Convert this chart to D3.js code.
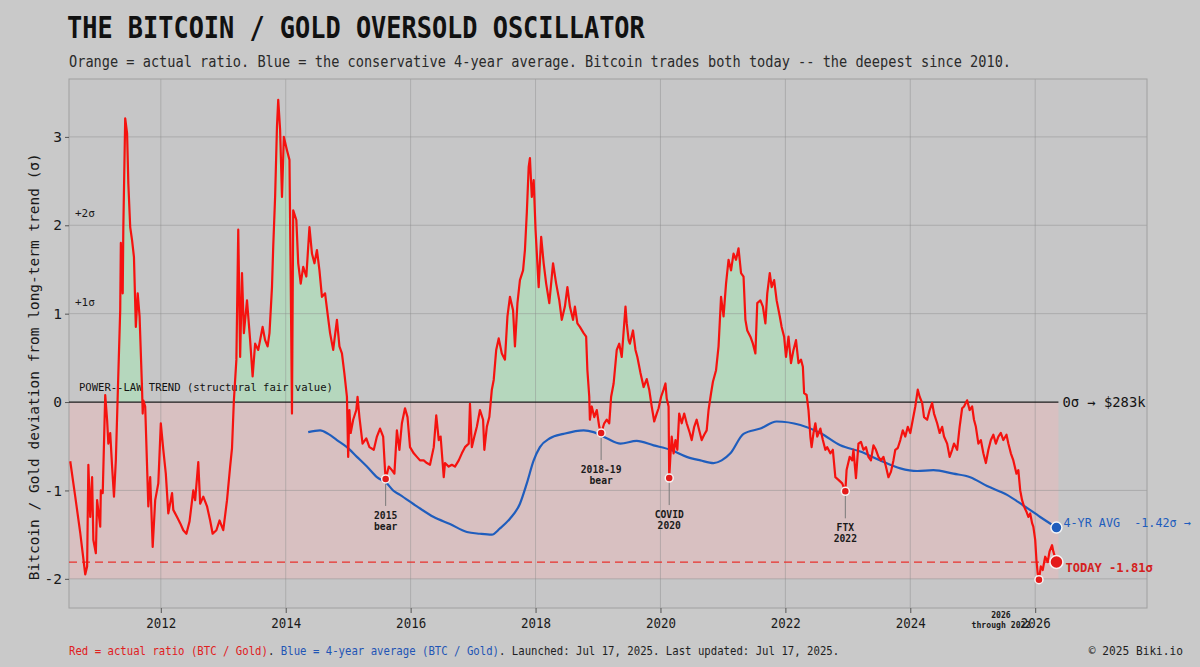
<!DOCTYPE html>
<html>
<head>
<meta charset="utf-8">
<script src="https://cdn.jsdelivr.net/npm/d3@7"></script>
<style>
  html, body { margin: 0; padding: 0; background: #c9c9c9; }
  svg { display: block; }
  text { font-family: 'DejaVu Sans Mono', 'Liberation Mono', monospace; white-space: pre; }
</style>
</head>
<body>
<div id="chart"></div>
<script>
// BTC / Gold deviation from power-law trend, in sigma (decimal year, value)
const ratioSeries = [
  [2010.55, -0.67], [2010.63, -1.07], [2010.71, -1.48], [2010.79, -1.95], [2010.82, -1.86],
  [2010.84, -0.71], [2010.87, -1.30], [2010.90, -0.85], [2010.92, -1.56], [2010.96, -1.71],
  [2010.98, -1.11], [2011.03, -1.41], [2011.04, -1.00], [2011.07, -1.03], [2011.11, 0.08],
  [2011.14, -0.20], [2011.16, -0.47], [2011.19, -0.35], [2011.22, -0.73], [2011.25, -1.07],
  [2011.28, -0.66], [2011.32, 0.32], [2011.35, 1.04], [2011.36, 1.80], [2011.39, 1.23],
  [2011.40, 1.98], [2011.43, 3.21], [2011.46, 3.04], [2011.48, 2.47], [2011.51, 1.98],
  [2011.54, 1.83], [2011.57, 1.64], [2011.60, 0.85], [2011.63, 1.23], [2011.66, 0.97],
  [2011.70, 0.14], [2011.71, -0.13], [2011.72, 0.02], [2011.75, -0.05], [2011.80, -1.18],
  [2011.83, -0.85], [2011.87, -1.64], [2011.91, -1.11], [2011.96, -0.92], [2012.00, -0.24],
  [2012.04, -0.54], [2012.08, -0.81], [2012.12, -1.26], [2012.18, -1.03], [2012.20, -1.22],
  [2012.26, -1.30], [2012.31, -1.37], [2012.36, -1.45], [2012.41, -1.49], [2012.46, -1.35],
  [2012.52, -1.00], [2012.55, -1.11], [2012.60, -0.68], [2012.63, -1.15], [2012.68, -1.07],
  [2012.74, -1.18], [2012.79, -1.34], [2012.83, -1.49], [2012.89, -1.45], [2012.94, -1.34],
  [2013.00, -1.45], [2013.06, -1.11], [2013.11, -0.73], [2013.14, -0.52], [2013.17, 0.02],
  [2013.21, 0.48], [2013.24, 1.95], [2013.27, 0.51], [2013.30, 1.46], [2013.33, 0.78],
  [2013.38, 1.15], [2013.43, 0.70], [2013.47, 0.29], [2013.51, 0.66], [2013.56, 0.59],
  [2013.63, 0.85], [2013.67, 0.70], [2013.71, 0.63], [2013.74, 0.78], [2013.78, 1.30],
  [2013.80, 1.76], [2013.83, 2.32], [2013.86, 3.12], [2013.88, 3.42], [2013.91, 3.08],
  [2013.94, 2.32], [2013.97, 3.00], [2014.02, 2.85], [2014.06, 2.74], [2014.08, 1.38],
  [2014.10, -0.13], [2014.12, 2.17], [2014.17, 2.06], [2014.20, 1.57], [2014.24, 1.34],
  [2014.28, 1.53], [2014.33, 1.42], [2014.38, 1.98], [2014.42, 1.68], [2014.46, 1.57],
  [2014.50, 1.72], [2014.54, 1.49], [2014.58, 1.19], [2014.63, 1.23], [2014.67, 1.00],
  [2014.71, 0.78], [2014.76, 0.59], [2014.82, 0.93], [2014.86, 0.63], [2014.90, 0.55],
  [2014.94, 0.32], [2014.98, 0.06], [2015.00, -0.62], [2015.02, -0.09], [2015.04, -0.35],
  [2015.08, -0.20], [2015.13, -0.09], [2015.15, 0.06], [2015.18, -0.17], [2015.23, -0.47],
  [2015.29, -0.41], [2015.34, -0.51], [2015.41, -0.54], [2015.46, -0.39], [2015.51, -0.30],
  [2015.56, -0.39], [2015.59, -0.77], [2015.60, -0.87], [2015.65, -0.73], [2015.70, -0.77],
  [2015.74, -0.81], [2015.78, -0.32], [2015.82, -0.54], [2015.86, -0.24], [2015.91, -0.07],
  [2015.95, -0.17], [2015.99, -0.51], [2016.05, -0.58], [2016.10, -0.62], [2016.15, -0.66],
  [2016.21, -0.66], [2016.26, -0.69], [2016.31, -0.71], [2016.37, -0.51], [2016.41, -0.15],
  [2016.45, -0.43], [2016.48, -0.39], [2016.53, -0.85], [2016.55, -0.69], [2016.61, -0.73],
  [2016.66, -0.71], [2016.71, -0.73], [2016.77, -0.66], [2016.82, -0.58], [2016.87, -0.51],
  [2016.93, -0.47], [2016.95, -0.02], [2016.98, -0.51], [2017.02, -0.39], [2017.06, -0.28],
  [2017.11, -0.09], [2017.16, -0.20], [2017.18, -0.54], [2017.22, -0.28], [2017.26, -0.17],
  [2017.30, 0.14], [2017.33, 0.25], [2017.37, 0.59], [2017.41, 0.72], [2017.46, 0.55],
  [2017.51, 0.48], [2017.55, 0.97], [2017.59, 1.19], [2017.64, 1.04], [2017.67, 0.63],
  [2017.71, 1.12], [2017.75, 1.38], [2017.80, 1.49], [2017.83, 1.72], [2017.86, 2.14],
  [2017.89, 2.66], [2017.91, 2.76], [2017.94, 2.32], [2017.97, 2.51], [2018.00, 1.95],
  [2018.05, 1.30], [2018.09, 1.87], [2018.13, 1.57], [2018.17, 1.34], [2018.22, 1.12],
  [2018.28, 1.57], [2018.33, 1.34], [2018.38, 1.15], [2018.42, 0.93], [2018.47, 1.08],
  [2018.51, 1.30], [2018.55, 1.08], [2018.60, 0.93], [2018.63, 1.08], [2018.67, 0.89],
  [2018.71, 0.85], [2018.77, 0.78], [2018.81, 0.74], [2018.83, 0.36], [2018.86, 0.06],
  [2018.87, -0.20], [2018.90, -0.05], [2018.94, -0.17], [2018.98, -0.09], [2019.02, -0.28],
  [2019.05, -0.35], [2019.10, -0.24], [2019.14, -0.20], [2019.18, -0.24], [2019.21, 0.06],
  [2019.25, 0.21], [2019.30, 0.59], [2019.34, 0.66], [2019.38, 0.51], [2019.44, 1.08],
  [2019.46, 0.89], [2019.49, 0.70], [2019.51, 0.66], [2019.56, 0.81], [2019.60, 0.59],
  [2019.63, 0.51], [2019.68, 0.33], [2019.73, 0.17], [2019.78, 0.26], [2019.82, 0.14],
  [2019.86, -0.05], [2019.90, -0.22], [2019.94, -0.13], [2019.97, -0.07], [2020.01, 0.06],
  [2020.05, 0.14], [2020.08, 0.21], [2020.10, 0.04], [2020.13, -0.05], [2020.14, -0.86],
  [2020.16, -0.60], [2020.18, -0.39], [2020.21, -0.58], [2020.24, -0.43], [2020.27, -0.54],
  [2020.30, -0.13], [2020.34, -0.24], [2020.38, -0.13], [2020.42, -0.24], [2020.47, -0.35],
  [2020.50, -0.43], [2020.54, -0.28], [2020.58, -0.20], [2020.62, -0.32], [2020.66, -0.43],
  [2020.70, -0.37], [2020.74, -0.32], [2020.77, -0.09], [2020.81, 0.10], [2020.84, 0.23],
  [2020.89, 0.36], [2020.93, 0.63], [2020.97, 1.19], [2021.01, 0.97], [2021.05, 1.34],
  [2021.09, 1.61], [2021.13, 1.49], [2021.17, 1.68], [2021.21, 1.61], [2021.25, 1.74],
  [2021.29, 1.46], [2021.33, 1.42], [2021.36, 0.93], [2021.39, 0.81], [2021.44, 0.74],
  [2021.48, 0.66], [2021.52, 0.55], [2021.55, 1.12], [2021.60, 1.15], [2021.64, 1.08],
  [2021.68, 0.89], [2021.71, 1.23], [2021.75, 1.46], [2021.78, 1.30], [2021.82, 1.38],
  [2021.86, 1.15], [2021.91, 0.97], [2021.94, 0.85], [2021.98, 0.74], [2022.01, 0.51],
  [2022.05, 0.74], [2022.09, 0.44], [2022.13, 0.59], [2022.17, 0.70], [2022.21, 0.44],
  [2022.25, 0.48], [2022.28, 0.40], [2022.30, 0.10], [2022.34, 0.08], [2022.37, -0.09],
  [2022.40, -0.39], [2022.42, -0.51], [2022.45, -0.35], [2022.48, -0.24], [2022.51, -0.39],
  [2022.56, -0.30], [2022.60, -0.43], [2022.64, -0.54], [2022.67, -0.51], [2022.72, -0.58],
  [2022.76, -0.54], [2022.80, -0.85], [2022.85, -0.88], [2022.91, -0.92], [2022.96, -1.01],
  [2022.98, -0.77], [2023.03, -0.62], [2023.07, -0.66], [2023.09, -0.54], [2023.13, -0.86],
  [2023.17, -0.47], [2023.21, -0.45], [2023.25, -0.54], [2023.29, -0.51], [2023.33, -0.62],
  [2023.37, -0.66], [2023.41, -0.49], [2023.45, -0.54], [2023.49, -0.62], [2023.53, -0.66],
  [2023.57, -0.62], [2023.61, -0.73], [2023.65, -0.85], [2023.69, -0.79], [2023.73, -0.66],
  [2023.76, -0.54], [2023.80, -0.52], [2023.84, -0.43], [2023.88, -0.32], [2023.92, -0.39],
  [2023.96, -0.28], [2024.00, -0.35], [2024.04, -0.20], [2024.08, -0.05], [2024.12, 0.14],
  [2024.15, 0.06], [2024.19, -0.01], [2024.22, -0.17], [2024.27, -0.20], [2024.31, -0.09],
  [2024.35, -0.01], [2024.38, -0.13], [2024.43, -0.24], [2024.47, -0.35], [2024.51, -0.28],
  [2024.54, -0.39], [2024.59, -0.47], [2024.63, -0.62], [2024.67, -0.54], [2024.70, -0.47],
  [2024.75, -0.54], [2024.79, -0.28], [2024.83, -0.07], [2024.86, -0.05], [2024.91, 0.02],
  [2024.95, -0.09], [2024.99, -0.05], [2025.02, -0.20], [2025.05, -0.28], [2025.09, -0.47],
  [2025.13, -0.43], [2025.17, -0.58], [2025.21, -0.69], [2025.25, -0.54], [2025.29, -0.43],
  [2025.33, -0.37], [2025.37, -0.47], [2025.41, -0.39], [2025.45, -0.35], [2025.49, -0.43],
  [2025.54, -0.37], [2025.57, -0.47], [2025.61, -0.58], [2025.65, -0.66], [2025.70, -0.81],
  [2025.73, -0.77], [2025.76, -1.00], [2025.79, -1.11], [2025.82, -1.18], [2025.86, -1.24],
  [2025.89, -1.30], [2025.92, -1.26], [2025.95, -1.37], [2025.97, -1.41], [2026.00, -1.56],
  [2026.02, -1.79], [2026.04, -1.94], [2026.06, -2.01], [2026.09, -1.86], [2026.12, -1.90],
  [2026.16, -1.75], [2026.20, -1.81], [2026.23, -1.69], [2026.27, -1.62], [2026.29, -1.69],
  [2026.34, -1.81]
];

// conservative 4-year average of the same ratio
const avgSeries = [
  [2014.36, -0.34], [2014.55, -0.32], [2014.68, -0.36], [2014.82, -0.43], [2014.98, -0.51],
  [2015.14, -0.62], [2015.30, -0.73], [2015.46, -0.85], [2015.62, -0.92], [2015.72, -1.00],
  [2015.83, -1.05], [2016.10, -1.18], [2016.37, -1.30], [2016.63, -1.38], [2016.90, -1.47],
  [2017.11, -1.49], [2017.30, -1.50], [2017.43, -1.43], [2017.59, -1.32], [2017.75, -1.15],
  [2017.86, -0.92], [2017.97, -0.66], [2018.07, -0.51], [2018.23, -0.41], [2018.45, -0.36],
  [2018.77, -0.32], [2018.93, -0.34], [2019.14, -0.41], [2019.36, -0.47], [2019.62, -0.44],
  [2019.89, -0.49], [2020.16, -0.54], [2020.42, -0.62], [2020.64, -0.66], [2020.85, -0.69],
  [2020.98, -0.66], [2021.12, -0.58], [2021.33, -0.36], [2021.60, -0.30], [2021.86, -0.22],
  [2022.24, -0.26], [2022.56, -0.35], [2022.88, -0.49], [2023.20, -0.56], [2023.52, -0.66],
  [2023.84, -0.75], [2024.11, -0.78], [2024.37, -0.77], [2024.69, -0.81], [2024.96, -0.85],
  [2025.23, -0.95], [2025.55, -1.05], [2025.81, -1.17], [2026.08, -1.30], [2026.34, -1.42]
];

const xTickYears = [2012, 2014, 2016, 2018, 2020, 2022, 2024, 2026];
const yTickValues = [-2, -1, 0, 1, 2, 3];
const sigmaBands = [{value: 2, label: '+2σ'}, {value: 1, label: '+1σ'}];

// marked lows along the red line
const events = [
  {year: 2015.60, value: -0.87, lines: ['2015', 'bear'], leader: true, shift: 0},
  {year: 2019.05, value: -0.35, lines: ['2018-19', 'bear'], leader: true, shift: 0},
  {year: 2020.14, value: -0.86, lines: ['COVID', '2020'], leader: true, shift: 0},
  {year: 2022.96, value: -1.01, lines: ['FTX', '2022'], leader: true, shift: 0},
  {year: 2026.06, value: -2.01, lines: ['2026', 'through 2022'], leader: false, shift: -38}
];

const todayYear = 2026.34;
const todayValue = -1.81;
const avgTodayValue = -1.42;
const fairValueLabel = '0σ → $283k';
const lowerBandFloor = -2;

const width = 1200, height = 667;
const margin = {top: 79, right: 53, bottom: 59, left: 69};
const plotW = width - margin.left - margin.right;
const plotH = height - margin.top - margin.bottom;

const x = d3.scaleLinear().domain([2010.53, 2027.79]).range([0, plotW]);
const y = d3.scaleLinear().domain([-2.33, 3.655]).range([plotH, 0]);

const svg = d3.select('#chart').append('svg')
  .attr('width', width)
  .attr('height', height);

svg.append('rect')
  .attr('width', width)
  .attr('height', height)
  .attr('fill', '#c9c9c9');

// helper: text squeezed horizontally like the condensed font in the original
function addText(parent, px, py, str, opts) {
  const o = Object.assign({size: 12, weight: 'normal', fill: '#222', anchor: 'start', sx: 1}, opts);
  return parent.append('text')
    .attr('transform', 'translate(' + px + ',' + py + ') scale(' + o.sx + ',1)')
    .attr('font-size', o.size)
    .attr('font-weight', o.weight)
    .attr('fill', o.fill)
    .attr('text-anchor', o.anchor)
    .text(str);
}

// title + subtitle
addText(svg, 67, 38, 'THE BITCOIN / GOLD OVERSOLD OSCILLATOR',
  {size: 31, weight: 'bold', fill: '#111', sx: 0.815});
addText(svg, 69, 67,
  'Orange = actual ratio. Blue = the conservative 4-year average. Bitcoin trades both today -- the deepest since 2010.',
  {size: 15, fill: '#2a2a2a', sx: 0.908});

const chart = svg.append('g')
  .attr('transform', 'translate(' + margin.left + ',' + margin.top + ')');

chart.append('rect')
  .attr('width', plotW)
  .attr('height', plotH)
  .attr('fill', '#c6c6c7');

const shadeEnd = x(todayYear) + 2;

// below-trend zone
chart.append('rect')
  .attr('x', 0)
  .attr('y', y(0))
  .attr('width', shadeEnd)
  .attr('height', y(lowerBandFloor) - y(0))
  .attr('fill', '#ffb3b3')
  .attr('opacity', 0.32);

// above-trend fill under the red line
const greenArea = d3.area()
  .x(d => x(d[0]))
  .y0(y(0))
  .y1(d => y(Math.max(d[1], 0)));

chart.append('path')
  .datum(ratioSeries)
  .attr('d', greenArea)
  .attr('fill', '#a8e6b4')
  .attr('opacity', 0.55);

// grid
chart.selectAll('line.vgrid')
  .data(xTickYears).enter()
  .append('line')
  .attr('class', 'vgrid')
  .attr('x1', d => x(d)).attr('x2', d => x(d))
  .attr('y1', 0).attr('y2', plotH)
  .attr('stroke', '#8c8c8c')
  .attr('stroke-opacity', 0.45)
  .attr('stroke-width', 1);

chart.selectAll('line.hgrid')
  .data(yTickValues.filter(v => v !== 0)).enter()
  .append('line')
  .attr('class', 'hgrid')
  .attr('x1', 0).attr('x2', plotW)
  .attr('y1', d => y(d)).attr('y2', d => y(d))
  .attr('stroke', '#8c8c8c')
  .attr('stroke-opacity', 0.45)
  .attr('stroke-width', 1);

chart.append('rect')
  .attr('width', plotW)
  .attr('height', plotH)
  .attr('fill', 'none')
  .attr('stroke', '#a0a0a0')
  .attr('stroke-width', 1);

// axes
const xAxis = chart.append('g')
  .attr('transform', 'translate(0,' + plotH + ')')
  .call(d3.axisBottom(x).tickValues(xTickYears).tickFormat(d3.format('d')).tickSize(5).tickPadding(5));

const yAxis = chart.append('g')
  .call(d3.axisLeft(y).tickValues(yTickValues).tickFormat(d => d < 0 ? '-' + Math.abs(d) : d).tickSize(4).tickPadding(3));

[xAxis, yAxis].forEach(ax => {
  ax.select('.domain').remove();
  ax.selectAll('.tick line').attr('stroke', '#555');
  ax.selectAll('.tick text')
    .attr('fill', '#1a1a1a')
    .attr('font-size', 14.5)
    .attr('font-family', "'DejaVu Sans Mono', monospace");
});
xAxis.selectAll('.tick text').attr('transform', 'scale(0.86,1)');

svg.append('text')
  .attr('transform', 'translate(39,' + (margin.top + y(0.4)) + ') rotate(-90)')
  .attr('text-anchor', 'middle')
  .attr('font-size', 14.5)
  .attr('fill', '#1a1a1a')
  .attr('textLength', 427)
  .attr('lengthAdjust', 'spacingAndGlyphs')
  .text('Bitcoin / Gold deviation from long-term trend (σ)');

// sigma band labels
sigmaBands.forEach(b => {
  addText(chart, 6, y(b.value) - 8, b.label, {size: 11, fill: '#1a1a1a'});
});

// trend line + today's level
chart.append('line')
  .attr('x1', 0).attr('x2', shadeEnd)
  .attr('y1', y(0)).attr('y2', y(0))
  .attr('stroke', '#1c1c1c')
  .attr('stroke-width', 1.3);

addText(chart, 10, y(0) - 11, 'POWER--LAW TREND (structural fair value)',
  {size: 11, fill: '#111', sx: 0.96});

chart.append('line')
  .attr('x1', 0).attr('x2', shadeEnd)
  .attr('y1', y(todayValue)).attr('y2', y(todayValue))
  .attr('stroke', '#e8302c')
  .attr('stroke-width', 1.3)
  .attr('stroke-dasharray', '8,5');

// 4-year average
const line = d3.line()
  .x(d => x(d[0]))
  .y(d => y(d[1]));

chart.append('path')
  .datum(avgSeries)
  .attr('d', line.curve(d3.curveMonotoneX))
  .attr('fill', 'none')
  .attr('stroke', '#1f5dbd')
  .attr('stroke-width', 2.2);

// actual ratio
chart.append('path')
  .datum(ratioSeries)
  .attr('d', d3.line().x(d => x(d[0])).y(d => y(d[1]))(ratioSeries))
  .attr('fill', 'none')
  .attr('stroke', '#f5120f')
  .attr('stroke-width', 2.2)
  .attr('stroke-linejoin', 'round');

// event markers
const ev = chart.selectAll('g.event')
  .data(events).enter()
  .append('g')
  .attr('class', 'event');

ev.filter(d => d.leader).append('line')
  .attr('x1', d => x(d.year)).attr('x2', d => x(d.year))
  .attr('y1', d => y(d.value) + 3)
  .attr('y2', d => y(d.value) + 27)
  .attr('stroke', '#7a7a7a')
  .attr('stroke-width', 1);

ev.append('circle')
  .attr('cx', d => x(d.year))
  .attr('cy', d => y(d.value))
  .attr('r', 4)
  .attr('fill', '#e41a1a')
  .attr('stroke', '#f4f4f4')
  .attr('stroke-width', 1.5);

ev.each(function (d) {
  const g = d3.select(this);
  const small = !d.leader;
  d.lines.forEach((t, i) => {
    addText(g, x(d.year) + d.shift, y(d.value) + (small ? 38 : 40) + i * (small ? 10 : 11), t,
      {size: small ? 8.6 : 10.2, weight: 'bold', fill: '#1a1a1a', anchor: 'middle', sx: 0.95});
  });
});

// end-point markers and labels
chart.append('circle')
  .attr('cx', x(todayYear)).attr('cy', y(avgTodayValue))
  .attr('r', 5.5)
  .attr('fill', '#1f5dbd')
  .attr('stroke', '#f4f4f4')
  .attr('stroke-width', 1.5);

chart.append('circle')
  .attr('cx', x(todayYear)).attr('cy', y(todayValue))
  .attr('r', 6.5)
  .attr('fill', '#e41a1a')
  .attr('stroke', '#f4f4f4')
  .attr('stroke-width', 1.5);

addText(chart, shadeEnd + 4, y(0) + 5, fairValueLabel, {size: 13.8, fill: '#141414'});
addText(chart, shadeEnd + 5, y(avgTodayValue) - 1, '4-YR AVG  ' + avgTodayValue.toFixed(2) + 'σ →',
  {size: 12, fill: '#1f5dbd', sx: 0.98});
addText(chart, shadeEnd + 7, y(todayValue) + 10, 'TODAY ' + todayValue.toFixed(2) + 'σ',
  {size: 13, weight: 'bold', fill: '#d42020', sx: 0.93});

// footer
const foot = svg.append('text')
  .attr('transform', 'translate(69,655) scale(0.84,1)')
  .attr('font-size', 12.7)
  .attr('fill', '#1e1e1e');
foot.append('tspan').attr('fill', '#e0201e').text('Red = actual ratio (BTC / Gold)');
foot.append('tspan').text('. ');
foot.append('tspan').attr('fill', '#1f55b5').text('Blue = 4-year average (BTC / Gold)');
foot.append('tspan').text('. Launched: Jul 17, 2025. Last updated: Jul 17, 2025.');

addText(svg, 1183, 655, '© 2025 Biki.io', {size: 12.7, fill: '#1e1e1e', anchor: 'end', sx: 0.88});
</script>
</body>
</html>
